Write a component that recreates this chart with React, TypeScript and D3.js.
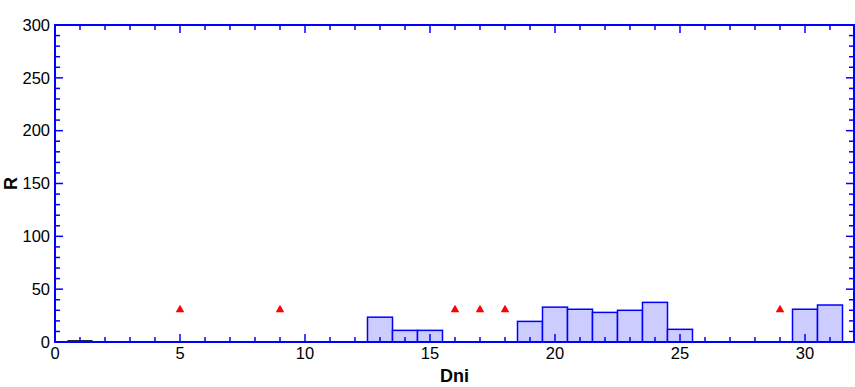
import React from "react";
import * as d3 from "d3";

const binCenters = [1, 13, 14, 15, 19, 20, 21, 22, 23, 24, 25, 30, 31];
const binCounts = [0.8, 23.5, 11, 11, 19.5, 33, 31, 28, 30, 37.5, 12, 31, 35];
const pointX = [5, 9, 16, 17, 18, 29];
const pointY = [30, 30, 30, 30, 30, 30];
const xTicks = [0, 5, 10, 15, 20, 25, 30];
const yTicks = [0, 50, 100, 150, 200, 250, 300];

export default function App() {
  const W = 855, H = 387;
  const left = 55, right = 854, top = 25, bottom = 342;
  const x = d3.scaleLinear().domain([0, 32]).range([left, right + 1]);
  const y = d3.scaleLinear().domain([0, 300]).range([bottom, top]);
  const xMinor = d3.range(0, 33, 1);
  const yMinor = d3.range(0, 301, 10);
  const blue = "#0000ff";
  const font = "'Liberation Sans', Arial, sans-serif";
  const tri = d3.symbol().type(d3.symbolTriangle).size(32)();
  return (
    <svg width={W} height={H} style={{ position: "absolute", left: 0, top: 0 }} fontFamily={font}>
      <rect width={W} height={H} fill="#fff" />
      {binCenters.map((c, i) => {
        const x0 = x(c - 0.5), x1 = x(c + 0.5);
        const yt = y(binCounts[i]);
        const dark = binCounts[i] < 2;
        return dark ? (
          <rect key={i} x={x0} y={yt - 1} width={x1 - x0} height={bottom - yt + 1} fill="#000" />
        ) : (
          <rect key={i} x={x0} y={yt} width={x1 - x0} height={bottom - yt} fill="#ccccff" stroke={blue} strokeWidth={1.5} />
        );
      })}
      <rect x={left} y={top} width={right - left} height={bottom - top} fill="none" stroke={blue} strokeWidth={2} />
      {xMinor.map((v) => {
        const major = v % 5 === 0;
        const len = major ? 8 : 5;
        const px = x(v);
        return (
          <g key={"xt" + v}>
            <line x1={px} x2={px} y1={bottom} y2={bottom - len} stroke={blue} strokeWidth={1.5} />
            <line x1={px} x2={px} y1={top} y2={top + len} stroke={blue} strokeWidth={1.5} />
          </g>
        );
      })}
      {yMinor.map((v) => {
        const major = v % 50 === 0;
        const len = major ? 8 : 5;
        const py = y(v);
        return (
          <g key={"yt" + v}>
            <line x1={left} x2={left + len} y1={py} y2={py} stroke={blue} strokeWidth={1.5} />
            <line x1={right} x2={right - len} y1={py} y2={py} stroke={blue} strokeWidth={1.5} />
          </g>
        );
      })}
      {pointX.map((v, i) => (
        <path key={"p" + i} d={tri} transform={`translate(${x(v)},${y(pointY[i]) - 0.5})`} fill="#ff0000" />
      ))}
      {xTicks.map((v) => (
        <text key={"xl" + v} x={x(v)} y={359} textAnchor="middle" fontSize={16.5} fill="#000">{v}</text>
      ))}
      {yTicks.map((v) => (
        <text key={"yl" + v} x={50} y={y(v) + 5.8} textAnchor="end" fontSize={16.5} fill="#000">{v}</text>
      ))}
      <text x={(left + right) / 2} y={382} textAnchor="middle" fontSize={18} fontWeight="bold" fill="#000">Dni</text>
      <text transform={`translate(17,${(top + bottom) / 2}) rotate(-90)`} textAnchor="middle" fontSize={18} fontWeight="bold" fill="#000">R</text>
    </svg>
  );
}
